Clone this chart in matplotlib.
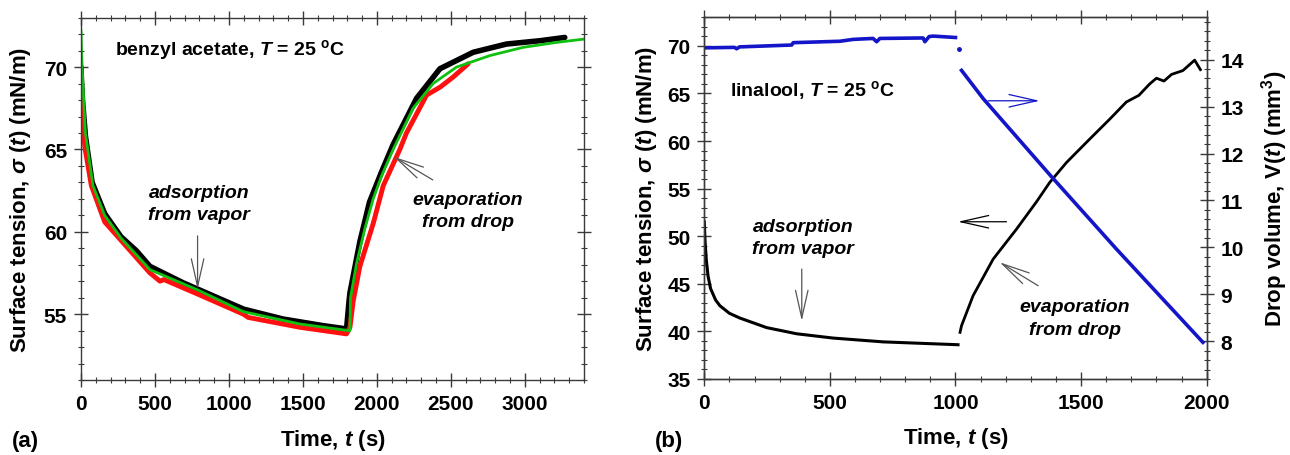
import numpy as np
import matplotlib
matplotlib.use('Agg')
import matplotlib.pyplot as plt
from matplotlib.ticker import MultipleLocator

# ---------------- data ----------------
# (a) benzyl acetate: black run, red run, green fit
a_black_t = [0, 3, 10, 30, 75, 160, 270, 374, 466, 691, 985, 1100, 1367, 1637, 1795,
             1812, 1818, 1885, 1950, 2030, 2110, 2268, 2426, 2651, 2876, 3101, 3270]
a_black_s = [70.0, 69.2, 68.0, 65.8, 63.0, 61.1, 59.7, 58.85, 57.9, 56.9, 55.75, 55.3, 54.7, 54.3, 54.1,
             55.8, 56.3, 59.4, 61.8, 63.6, 65.3, 68.1, 69.9, 70.9, 71.4, 71.6, 71.8]

a_red_t = [0, 2, 25, 70, 160, 318, 466, 534, 560, 793, 1097, 1130, 1480, 1795,
           1818, 1840, 1885, 1975, 2043, 2155, 2200, 2336, 2430, 2516, 2617]
a_red_s = [69.4, 68.5, 65.2, 62.8, 60.6, 59.0, 57.5, 57.0, 57.1, 56.2, 55.0, 54.8, 54.2, 53.8,
           54.2, 55.8, 57.9, 60.5, 62.8, 65.0, 66.0, 68.3, 68.8, 69.4, 70.2]

a_fit_t = [0, 4, 13, 30, 81, 160, 272, 385, 466, 793, 1097, 1480, 1810,
           1818, 1822, 1863, 1919, 1975, 2032, 2110, 2245, 2380, 2538, 2764, 2989, 3214, 3400]
a_fit_s = [72.2, 70.8, 68.9, 66.0, 62.8, 61.0, 59.6, 58.5, 57.7, 56.45, 55.15, 54.4, 54.0,
           54.0, 56.0, 58.1, 60.2, 62.0, 63.4, 65.0, 67.5, 69.0, 70.0, 70.7, 71.2, 71.5, 71.7]

# (b) linalool: surface tension (black) and drop volume (blue)
b_ads_t = [0, 3, 8, 15, 25, 45, 62, 100, 142, 248, 368, 513, 712, 1010]
b_ads_s = [51.5, 49.5, 47.5, 45.8, 44.5, 43.3, 42.7, 41.9, 41.4, 40.4, 39.75, 39.3, 38.9, 38.6]

b_evap_t = [1018, 1024, 1070, 1150, 1243, 1322, 1375, 1442, 1534, 1614, 1680, 1730,
            1773, 1800, 1830, 1860, 1905, 1952, 1975]
b_evap_s = [39.9, 40.6, 43.75, 47.6, 50.75, 53.6, 55.65, 57.75, 60.2, 62.3, 64.1, 64.8,
            66.0, 66.6, 66.3, 67.0, 67.4, 68.5, 67.5]

vol_ads_t = [0, 120, 129, 140, 348, 354, 540, 593, 672, 686, 699, 871, 878, 895, 911, 1000]
vol_ads_v = [14.25, 14.26, 14.23, 14.27, 14.31, 14.36, 14.39, 14.43, 14.45, 14.38, 14.45,
             14.46, 14.38, 14.49, 14.50, 14.47]
vol_jump_t = [1012]
vol_jump_v = [14.22]
vol_evap_t = [1024, 1110, 1375, 1640, 1985]
vol_evap_v = [13.77, 13.17, 11.55, 9.97, 7.98]

# ---------------- style ----------------
plt.rcParams['font.family'] = ['Liberation Sans', 'DejaVu Sans']
plt.rcParams['font.weight'] = 'bold'
plt.rcParams['axes.labelweight'] = 'bold'
plt.rcParams['mathtext.fontset'] = 'custom'
plt.rcParams['mathtext.rm'] = 'Liberation Sans:bold'
plt.rcParams['mathtext.it'] = 'Liberation Sans:italic:bold'
plt.rcParams['mathtext.bf'] = 'Liberation Sans:bold'

spine_col = '#3a3a3a'
arrow_col = '#555555'
blue = '#1414c8'
tick_fs = 15
label_fs = 16
note_fs = 14


def style_axes(ax):
    for sp in ax.spines.values():
        sp.set_color(spine_col)
        sp.set_linewidth(1.0)
    ax.tick_params(which='both', direction='inout', colors=spine_col, labelcolor='black',
                   top=True, right=True, labelsize=tick_fs)
    ax.tick_params(which='major', length=10, width=1.0, pad=5)
    ax.tick_params(which='minor', length=5, width=0.8)


def arrow(ax, xy, xytext, color=arrow_col, hl=2.0, hw=0.45):
    ax.annotate('', xy=xy, xytext=xytext,
                arrowprops=dict(arrowstyle='->, head_length=%g, head_width=%g' % (hl, hw),
                                color=color, lw=0.9, shrinkA=0, shrinkB=0))


def place_labels(ax, ylab_x):
    ax.xaxis.label.set_va('center')
    ax.xaxis.set_label_coords(0.5, -0.163)
    ax.yaxis.label.set_va('center')
    ax.yaxis.set_label_coords(ylab_x, 0.5)


fig = plt.figure(figsize=(12.9, 4.56), dpi=100)

# ---------------- panel (a) ----------------
ax1 = fig.add_axes([81 / 1290, 1 - 381 / 456, 503 / 1290, 362.3 / 456])
ax1.plot(a_black_t, a_black_s, color='black', lw=4.0, solid_capstyle='round')
ax1.plot(a_red_t, a_red_s, color='#ff1010', lw=3.5, solid_capstyle='round')
ax1.plot(a_fit_t, a_fit_s, color='#10c010', lw=2.0)
ax1.set_xlim(0, 3400)
ax1.set_ylim(51, 73)
ax1.xaxis.set_major_locator(MultipleLocator(500))
ax1.xaxis.set_minor_locator(MultipleLocator(100))
ax1.yaxis.set_major_locator(MultipleLocator(5))
ax1.yaxis.set_minor_locator(MultipleLocator(1))
style_axes(ax1)
ax1.set_xlabel('Time, $t$ (s)', fontsize=label_fs)
ax1.set_ylabel(r'Surface tension, $\sigma$ ($t$) (mN/m)', fontsize=label_fs)
place_labels(ax1, -0.121)

ax1.text(230, 71.1, r'benzyl acetate, $T$ = 25 $^{\mathrm{o}}$C', fontsize=note_fs,
         ha='left', va='center')
ax1.text(797, 61.7, 'adsorption\nfrom vapor', fontsize=note_fs, style='italic',
         ha='center', va='center', linespacing=1.4)
arrow(ax1, (788, 56.5), (788, 59.75))
ax1.text(2615, 61.3, 'evaporation\nfrom drop', fontsize=note_fs, style='italic',
         ha='center', va='center', linespacing=1.4)
arrow(ax1, (2115, 64.55), (2378, 63.15))

# ---------------- panel (b) ----------------
ax2 = fig.add_axes([704.3 / 1290, 1 - 380 / 456, 502.4 / 1290, 361.7 / 456])
ax3 = ax2.twinx()
ax2.plot(b_ads_t, b_ads_s, color='black', lw=2.2)
ax2.plot(b_evap_t, b_evap_s, color='black', lw=2.0)
ax3.plot(vol_ads_t, vol_ads_v, color=blue, lw=2.6)
ax3.plot(vol_jump_t, vol_jump_v, 'o', color=blue, ms=2.5)
ax3.plot(vol_evap_t, vol_evap_v, color=blue, lw=2.6)

ax2.set_xlim(0, 2000)
ax2.set_ylim(35, 73)
ax3.set_ylim(7.2, 14.9)
ax2.xaxis.set_major_locator(MultipleLocator(500))
ax2.xaxis.set_minor_locator(MultipleLocator(100))
ax2.yaxis.set_major_locator(MultipleLocator(5))
ax2.yaxis.set_minor_locator(MultipleLocator(1))
ax3.yaxis.set_major_locator(MultipleLocator(1))
ax3.yaxis.set_minor_locator(MultipleLocator(0.2))
style_axes(ax2)
ax2.tick_params(which='both', right=False)
style_axes(ax3)
ax3.tick_params(which='both', left=False, right=True, labelright=True)

ax2.set_xlabel('Time, $t$ (s)', fontsize=label_fs)
ax2.set_ylabel(r'Surface tension, $\sigma$ ($t$) (mN/m)', fontsize=label_fs)
place_labels(ax2, -0.116)
ax3.set_ylabel('Drop volume, V($t$) (mm$^3$)', fontsize=label_fs)
ax3.yaxis.label.set_va('center')
ax3.yaxis.set_label_coords(1.136, 0.5)

ax2.text(102, 65.46, r'linalool, $T$ = 25 $^{\mathrm{o}}$C', fontsize=note_fs,
         ha='left', va='center')
ax2.text(392, 49.9, 'adsorption\nfrom vapor', fontsize=note_fs, style='italic',
         ha='center', va='center', linespacing=1.4)
arrow(ax2, (388, 41.1), (388, 46.55))
ax2.text(1475, 41.4, 'evaporation\nfrom drop', fontsize=note_fs, style='italic',
         ha='center', va='center', linespacing=1.4)
arrow(ax2, (1176, 47.26), (1329, 44.8))
arrow(ax2, (1010, 51.52), (1203, 51.52), color='black')
arrow(ax2, (1335, 64.23), (1130, 64.23), color=blue)

fig.text(12 / 1290, 1 - 442 / 456, '(a)', fontsize=label_fs, ha='left', va='center')
fig.text(655 / 1290, 1 - 442 / 456, '(b)', fontsize=label_fs, ha='left', va='center')

fig.savefig('out.png', dpi=100)
